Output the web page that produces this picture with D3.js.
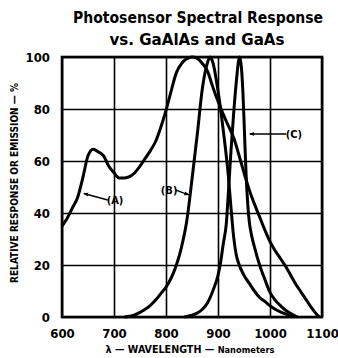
<!DOCTYPE html>
<html>
<head>
<meta charset="utf-8">
<script src="https://cdn.jsdelivr.net/npm/d3@7"></script>
<style>
    body { margin: 0; background: #fff; }
    svg { display: block; }
    text {
        font-family: "Liberation Sans Narrow", "DejaVu Sans Condensed", "Liberation Sans", sans-serif;
        font-weight: bold;
        fill: #000;
    }
    .tick text { font-size: 13px; }
</style>
</head>
<body>
<svg id="chart" width="338" height="358"></svg>
<script>
// (A) photosensor response
let wavelengthA = [600, 610, 620, 630, 640, 650, 660, 670, 680, 690, 700, 710, 720, 730, 740, 750, 760, 770, 780, 790,
    800, 810, 820, 830, 840, 850, 860, 870, 880, 890, 900, 910, 920, 930, 940, 950, 960, 970, 980, 990,
    1000, 1010, 1020, 1030, 1040, 1050, 1060, 1070, 1080, 1090, 1095];
let responseA = [35, 38, 42, 46, 53.5, 62, 64.5, 63.5, 62, 58, 55.5, 53.5, 53.5, 54, 55.5, 58, 61, 64, 67.5, 73,
    79.5, 87, 94, 97.5, 99.3, 100, 99.5, 97.5, 94.5, 88.5, 83, 78, 73.5, 69, 62.5, 55.5, 49, 43.5, 38.5, 33.5,
    29, 25.5, 22.5, 19.5, 16, 12.5, 9.5, 6.5, 3.5, 1, 0];

// (B) GaAlAs emission
let wavelengthB = [720, 730, 740, 750, 760, 770, 780, 790, 800, 810, 820, 830, 840, 850, 860, 870, 880, 885, 890,
    900, 910, 920, 925, 930, 935, 940, 950, 960, 970, 980, 990, 1000, 1010, 1020, 1030, 1040, 1048];
let emissionB = [0, 0.3, 0.8, 1.8, 3, 4.5, 6.5, 9, 11.5, 15, 20, 27, 37, 53, 70, 88, 98, 100, 98,
    87, 72, 54, 42, 31, 24, 20.5, 16, 13, 10, 7.5, 6, 4.3, 3, 2, 1.2, 0.5, 0];

// (C) GaAs emission
let wavelengthC = [835, 850, 860, 870, 880, 890, 900, 905, 910, 916, 920, 925, 930, 935, 940, 942, 945, 948, 950,
    952, 954, 957, 960, 965, 970, 980, 990, 1000, 1010, 1022, 1030, 1040, 1053];
let emissionC = [0, 0.7, 1.5, 3, 5.5, 10, 16, 21, 28, 36, 48, 64, 78, 90, 99, 100, 96, 86, 76,
    65, 55, 44, 37, 31, 27, 20, 14.5, 9.5, 6.5, 4, 2.6, 1.3, 0];

let xTicks = [600, 700, 800, 900, 1000, 1100];
let yTicks = [0, 20, 40, 60, 80, 100];

let curveNames = ["(A)", "(B)", "(C)"];
let labelAt = [[702, 45], [806, 48.8], [1046, 70.4]];
let arrowFrom = [[688, 45], [819, 48.8], [1031, 70.4]];
let arrowTo = [[642, 47.5], [844, 47], [961, 70.4]];

let svg = d3.select("#chart");
let x = d3.scaleLinear().domain([600, 1100]).range([62, 322]);
let y = d3.scaleLinear().domain([0, 100]).range([317, 57]);
let plotH = y(0) - y(100);
let plotW = x(1100) - x(600);

svg.append("defs").append("marker")
    .attr("id", "arrow")
    .attr("viewBox", "0 0 10 10")
    .attr("refX", 9)
    .attr("refY", 5)
    .attr("markerWidth", 5)
    .attr("markerHeight", 5)
    .attr("markerUnits", "userSpaceOnUse")
    .attr("orient", "auto")
    .append("path")
    .attr("d", "M0,1 L10,5 L0,9 z")
    .attr("fill", "#000");

// grid + tick labels
let xAxis = d3.axisBottom(x).tickValues(xTicks).tickFormat(d3.format("d"))
    .tickSizeInner(-plotH).tickSizeOuter(0).tickPadding(12);
let yAxis = d3.axisLeft(y).tickValues(yTicks).tickFormat(d3.format("d"))
    .tickSizeInner(-plotW).tickSizeOuter(0).tickPadding(12);

svg.append("g")
    .attr("transform", "translate(0," + y(0) + ")")
    .call(xAxis)
    .call(g => g.select(".domain").remove())
    .call(g => g.selectAll(".tick line").attr("stroke-width", 1.6));

svg.append("g")
    .attr("transform", "translate(" + x(600) + ",0)")
    .call(yAxis)
    .call(g => g.select(".domain").remove())
    .call(g => g.selectAll(".tick line").attr("stroke-width", 1.6));

svg.append("rect")
    .attr("x", x(600))
    .attr("y", y(100))
    .attr("width", plotW)
    .attr("height", plotH)
    .attr("fill", "none")
    .attr("stroke", "#000")
    .attr("stroke-width", 2.6);

// curves
let line = d3.line()
    .x(d => x(d[0]))
    .y(d => y(d[1]))
    .curve(d3.curveMonotoneX);

let series = [
    d3.zip(wavelengthA, responseA),
    d3.zip(wavelengthB, emissionB),
    d3.zip(wavelengthC, emissionC)
];

svg.append("g").selectAll("path")
    .data(series)
    .join("path")
    .attr("d", line)
    .attr("fill", "none")
    .attr("stroke", "#000")
    .attr("stroke-width", 3)
    .attr("stroke-linejoin", "round");

// curve labels with arrows
svg.append("g").selectAll("line")
    .data(curveNames)
    .join("line")
    .attr("x1", (d, i) => x(arrowFrom[i][0]))
    .attr("y1", (d, i) => y(arrowFrom[i][1]))
    .attr("x2", (d, i) => x(arrowTo[i][0]))
    .attr("y2", (d, i) => y(arrowTo[i][1]))
    .attr("stroke", "#000")
    .attr("stroke-width", 1.4)
    .attr("marker-end", "url(#arrow)");

svg.append("g").selectAll("text")
    .data(curveNames)
    .join("text")
    .attr("x", (d, i) => x(labelAt[i][0]))
    .attr("y", (d, i) => y(labelAt[i][1]))
    .attr("dy", "0.35em")
    .attr("text-anchor", "middle")
    .attr("font-size", 11)
    .text(d => d);

// titles
svg.append("text")
    .attr("x", 198)
    .attr("y", 23)
    .attr("text-anchor", "middle")
    .attr("font-size", 16)
    .attr("textLength", 250)
    .attr("lengthAdjust", "spacingAndGlyphs")
    .text("Photosensor Spectral Response");

svg.append("text")
    .attr("x", 197)
    .attr("y", 45)
    .attr("text-anchor", "middle")
    .attr("font-size", 16.5)
    .attr("textLength", 175)
    .attr("lengthAdjust", "spacingAndGlyphs")
    .text("vs. GaAlAs and GaAs");

let xTitle = svg.append("text")
    .attr("x", 190)
    .attr("y", 353)
    .attr("text-anchor", "middle")
    .attr("font-size", 11)
    .attr("textLength", 169)
    .attr("lengthAdjust", "spacingAndGlyphs");
xTitle.append("tspan").text("λ — WAVELENGTH — ");
xTitle.append("tspan").attr("font-size", 9.5).text("Nanometers");

svg.append("text")
    .attr("transform", "translate(14,183) rotate(-90)")
    .attr("text-anchor", "middle")
    .attr("dy", "0.35em")
    .attr("font-size", 10.5)
    .attr("textLength", 200)
    .attr("lengthAdjust", "spacingAndGlyphs")
    .text("RELATIVE RESPONSE OR EMISSION — %");
</script>
</body>
</html>
